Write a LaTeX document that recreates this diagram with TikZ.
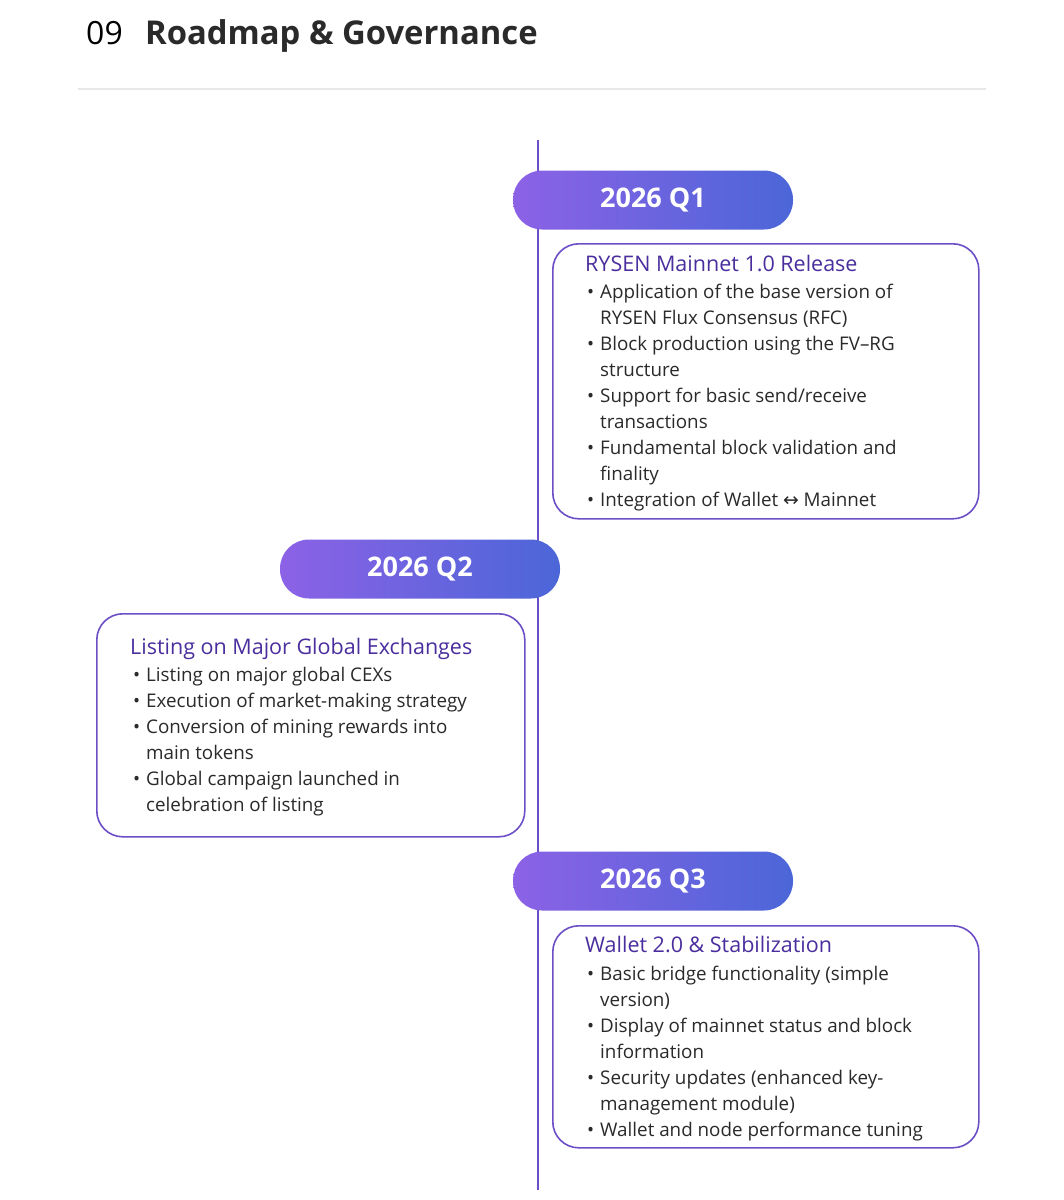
\documentclass[tikz,border=0pt]{standalone}
\usepackage{fontspec}
\setmainfont{Open Sans}
\newfontfamily\symfont{DejaVu Sans}
\usetikzlibrary{positioning}
\definecolor{pillL}{HTML}{8C62E6}
\definecolor{pillR}{HTML}{4B66D8}
\definecolor{boxline}{HTML}{6C4FC6}
\definecolor{ttl}{HTML}{4A2E9E}
\definecolor{txt}{HTML}{2A2A2A}
\definecolor{rule}{HTML}{E8E8E8}
\tikzset{
  pill/.style={minimum width=280pt, minimum height=59pt, rounded corners=29pt,
    left color=pillL, right color=pillR, text=white, font=\fontsize{27}{30}\selectfont\bfseries},
  card/.style={draw=boxline, line width=1.6pt, fill=white, rounded corners=26pt, anchor=north west},
  cardtitle/.style={anchor=base west, text=ttl, font=\fontsize{21.5}{24}\selectfont, inner sep=0pt},
  item/.style={anchor=base west, text=txt, font=\fontsize{18.8}{22}\selectfont, inner sep=0pt},
}
\newcommand{\bul}[3]{\node[item] at (#1-13,#2) {\textbullet}; \node[item] at (#1,#2) {#3};}
\begin{document}
\begin{tikzpicture}[x=1pt,y=-1pt]
\useasboundingbox[fill=white] (0,0) rectangle (1064,1200);
% header
\node[anchor=base west, inner sep=0pt, font=\fontsize{32}{36}\selectfont, text=black] (num) at (86,44) {09};
\node[anchor=base west, inner sep=0pt, font=\fontsize{32.8}{36}\selectfont\bfseries, text=txt] (head) at (145,44) {Roadmap \& Governance};
\draw[rule, line width=1.2pt] (78,89) -- (986,89);
% timeline
\coordinate (top) at (538,140);
\coordinate (bot) at (538,1190);
\draw[boxline, line width=1.6pt] (top) -- (bot);
% Q1
\node[pill] (q1) at (653,200) {2026 Q1};
\node[card, minimum width=426pt, minimum height=275pt] (c1) at (552,243) {};
\node[cardtitle] at (585,271) {RYSEN Mainnet 1.0 Release};
\bul{600}{298}{Application of the base version of}
\node[item] at (600,324) {RYSEN Flux Consensus (RFC)};
\bul{600}{350}{Block production using the FV–RG}
\node[item] at (600,376) {structure};
\bul{600}{402}{Support for basic send/receive}
\node[item] at (600,428) {transactions};
\bul{600}{454}{Fundamental block validation and}
\node[item] at (600,480) {finality};
\bul{600}{506}{Integration of Wallet {\symfont ↔} Mainnet}
% Q2
\node[pill] (q2) at (420,569) {2026 Q2};
\node[card, minimum width=428pt, minimum height=223pt] (c2) at (96,613) {};
\node[cardtitle] at (130,654) {Listing on Major Global Exchanges};
\bul{146}{681}{Listing on major global CEXs}
\bul{146}{707}{Execution of market-making strategy}
\bul{146}{733}{Conversion of mining rewards into}
\node[item] at (146,759) {main tokens};
\bul{146}{785}{Global campaign launched in}
\node[item] at (146,811) {celebration of listing};
% Q3
\node[pill] (q3) at (653,881) {2026 Q3};
\node[card, minimum width=426pt, minimum height=222pt] (c3) at (552,925) {};
\node[cardtitle] at (585,952) {Wallet 2.0 \& Stabilization};
\bul{600}{980}{Basic bridge functionality (simple}
\node[item] at (600,1006) {version)};
\bul{600}{1032}{Display of mainnet status and block}
\node[item] at (600,1058) {information};
\bul{600}{1084}{Security updates (enhanced key-}
\node[item] at (600,1110) {management module)};
\bul{600}{1136}{Wallet and node performance tuning}
\end{tikzpicture}
\end{document}
